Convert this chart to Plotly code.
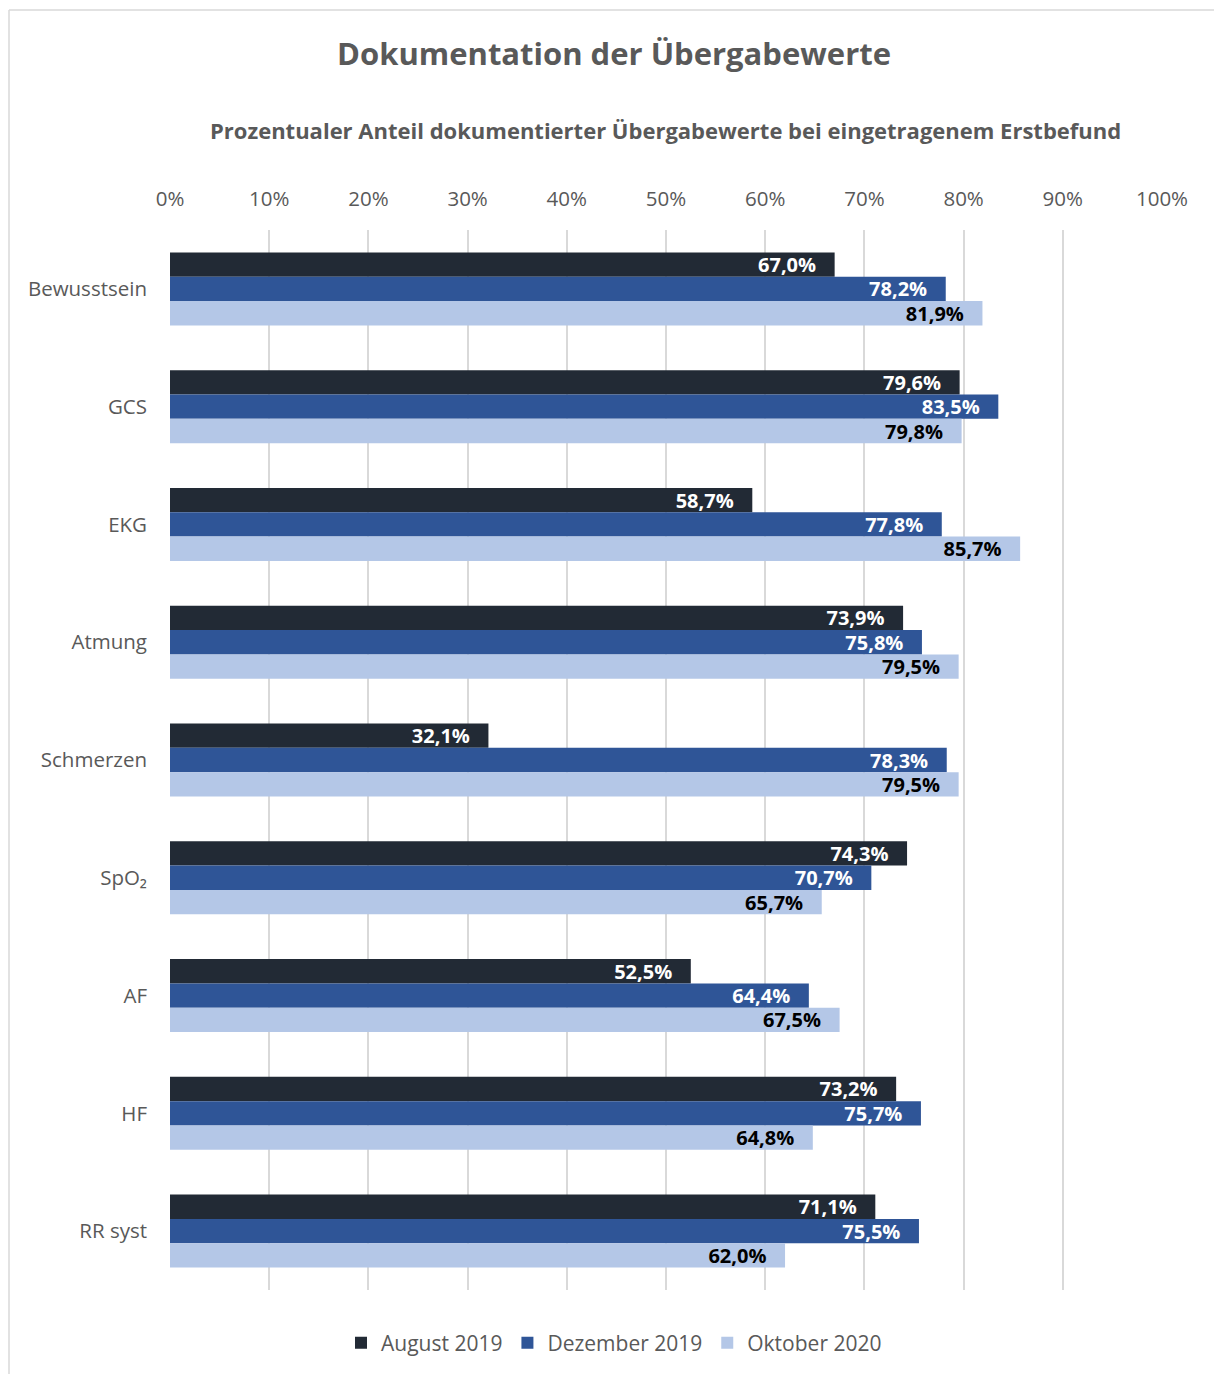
import plotly.graph_objects as go

categories = ["Bewusstsein", "GCS", "EKG", "Atmung", "Schmerzen", "SpO₂", "AF", "HF", "RR syst"]
august_2019 = [67.0, 79.6, 58.7, 73.9, 32.1, 74.3, 52.5, 73.2, 71.1]
dezember_2019 = [78.2, 83.5, 77.8, 75.8, 78.3, 70.7, 64.4, 75.7, 75.5]
oktober_2020 = [81.9, 79.8, 85.7, 79.5, 79.5, 65.7, 67.5, 64.8, 62.0]
series_names = ["August 2019", "Dezember 2019", "Oktober 2020"]
tick_vals = [0, 10, 20, 30, 40, 50, 60, 70, 80, 90, 100]
tick_text = [f"{v}%" for v in tick_vals]

colors = ["#222A35", "#2F5597", "#B4C7E7"]
text_colors = ["#FFFFFF", "#FFFFFF", "#000000"]
FONT = "Open Sans"
PAD = "\u00a0\u00a0\u00a0"


def fmt(v):
    return f"{v:.1f}%".replace(".", ",") + PAD


fig = go.Figure()
for name, vals, c, tc in zip(series_names, [august_2019, dezember_2019, oktober_2020], colors, text_colors):
    fig.add_trace(go.Bar(
        y=categories, x=vals, name=name, orientation="h",
        marker=dict(color=c, line=dict(width=0)),
        text=[fmt(v) for v in vals],
        textposition="inside", insidetextanchor="end",
        constraintext="none",
        textfont=dict(family=FONT, size=20, color=tc, weight="bold"),
        hoverinfo="skip",
    ))

W, H = 1214, 1374
L, R, T, B = 170, 52, 230, 84
pw, ph = W - L - R, H - T - B


def px_x(x):
    return (x - L) / pw


def px_y(y):
    return (H - B - y) / ph


fig.update_layout(
    width=W, height=H,
    margin=dict(l=L, r=R, t=T, b=B, autoexpand=False),
    paper_bgcolor="white", plot_bgcolor="white",
    barmode="group", bargap=0.38, bargroupgap=0,
    font=dict(family=FONT, color="#595959"),
    title=dict(text="<b>Dokumentation der Übergabewerte</b>", x=614 / W, xanchor="center",
               xref="container",
               y=1 - 54 / H, yanchor="middle", yref="container",
               font=dict(family=FONT, size=31, color="#595959")),
    xaxis=dict(side="top", range=[0, 100], tickvals=tick_vals, ticktext=tick_text,
               showgrid=True, gridcolor="#D9D9D9", gridwidth=1.5, zeroline=False,
               showline=False, ticks="", ticklabelstandoff=19,
               tickfont=dict(family=FONT, size=20.5, color="#595959"), fixedrange=True),
    yaxis=dict(autorange="reversed", showgrid=False, showline=False, ticks="",
               ticklabelstandoff=22,
               tickfont=dict(family=FONT, size=20.5, color="#595959"), fixedrange=True),
    legend=dict(orientation="h", x=px_x(614), xanchor="center", y=-53 / ph, yanchor="middle",
                font=dict(family=FONT, size=21, color="#595959"), traceorder="normal",
                itemwidth=30),
    showlegend=True,
)

fig.add_annotation(
    text="<b>Prozentualer Anteil dokumentierter Übergabewerte bei eingetragenem Erstbefund</b>",
    xref="paper", yref="paper", x=px_x((208 + 1123) / 2), y=px_y(130),
    xanchor="center", yanchor="middle", showarrow=False,
    font=dict(family=FONT, size=22, color="#595959"),
)

fig.add_shape(type="line", xref="paper", yref="paper",
              x0=px_x(9), x1=px_x(9), y0=px_y(10), y1=px_y(1380),
              line=dict(color="#D9D9D9", width=1.5))
fig.add_shape(type="line", xref="paper", yref="paper",
              x0=px_x(9), x1=px_x(1220), y0=px_y(10), y1=px_y(10),
              line=dict(color="#D9D9D9", width=1.5))

fig.write_html("out.html")
